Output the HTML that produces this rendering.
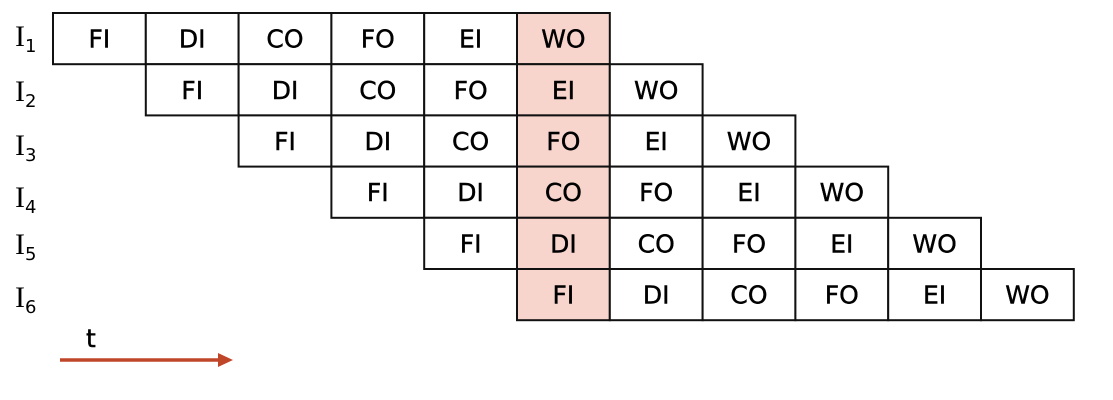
<!DOCTYPE html>
<html><head><meta charset="utf-8"><style>
body{margin:0;background:#fff;width:1113px;height:400px;overflow:hidden}
</style></head><body>
<svg id="chart" width="1113" height="400" viewBox="0 0 1113 400" style="position:absolute;left:0;top:0"></svg>
<script>
const stages=["FI","DI","CO","FO","EI","WO"];
const rowLabels=["1","2","3","4","5","6"];
const rowStart=[0,1,2,3,4,5];
const labelY=[46,101,155,207,254,307];
const highlightCol=5;
const x0=53,cw=92.8,y0=13,rh=51.2;
const NS="http://www.w3.org/2000/svg";
const svg=document.getElementById('chart');
function mk(t,a){const e=document.createElementNS(NS,t);for(const k in a)e.setAttribute(k,a[k]);svg.appendChild(e);return e;}
rowStart.forEach((s,r)=>{
  stages.forEach((st,i)=>{
    const c=s+i;
    const x=x0+c*cw,y=y0+r*rh;
    const rc=mk('rect',{x:x,y:y,width:cw,height:rh,fill:c===highlightCol?'#f7d5cc':'#fff',stroke:'#111','stroke-width':2});
    
    
    const tx=mk('text',{x:x+cw/2,y:y+rh/2+9,'text-anchor':'middle',fill:'#000',style:'font-family:"DejaVu Sans",sans-serif;font-size:25px;stroke:#000;stroke-width:0.4'});
    tx.textContent=st;
    
    
  });
  const lb=mk('text',{x:15,y:labelY[r],fill:'#000',style:'font-family:"Liberation Serif",serif;font-size:30px'});
  
  
  lb.innerHTML='I<tspan dy="6" style="font-family:\'DejaVu Sans\',sans-serif;font-size:18px">'+rowLabels[r]+'</tspan>';
});
</script>
<svg style="position:absolute;left:0;top:0" width="1113" height="400">
<text x="86" y="347" style="font-family:'DejaVu Sans',sans-serif;font-size:25px;stroke:#000;stroke-width:0.4">t</text>
<g>
<line x1="60" y1="360" x2="220" y2="360" stroke="#c0462a" stroke-width="3.5"/>
<polygon points="218,353 233,360 218,367" fill="#c0462a"/>
</g>
</svg>
</body></html>
